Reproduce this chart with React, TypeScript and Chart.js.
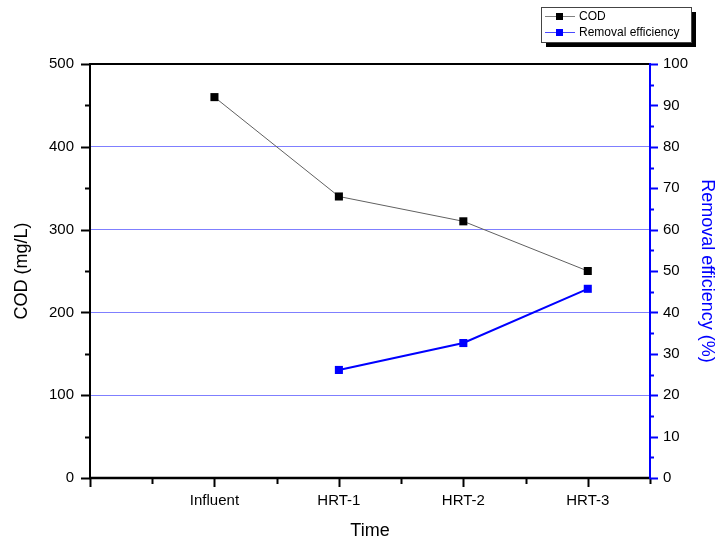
import React, { useEffect, useRef } from "react";
import { Chart, registerables } from "chart.js";

Chart.register(...registerables);

const categories = ["Influent", "HRT-1", "HRT-2", "HRT-3"];
const codValues: (number | null)[] = [460, 340, 310, 250];
const removalValues: (number | null)[] = [null, 26.1, 32.6, 45.7];
const leftTicks = [0, 100, 200, 300, 400, 500];
const rightTicks = [0, 10, 20, 30, 40, 50, 60, 70, 80, 90, 100];

const FONT = "'Liberation Sans', Arial, sans-serif";

const toPoints = (vals: (number | null)[]) =>
  vals
    .map((v, i) => (v === null ? null : { x: i + 1, y: v }))
    .filter((p) => p !== null) as { x: number; y: number }[];

const axesPlugin = {
  id: "originAxes",
  afterDraw(chart: any) {
    const ctx = chart.ctx as CanvasRenderingContext2D;
    const a = chart.chartArea;
    const x = chart.scales.x;
    const y = chart.scales.y;
    const y1 = chart.scales.y1;
    ctx.save();
    ctx.lineCap = "butt";
    // top border
    ctx.strokeStyle = "#000";
    ctx.lineWidth = 2;
    ctx.beginPath();
    ctx.moveTo(a.left, a.top);
    ctx.lineTo(a.right, a.top);
    ctx.stroke();
    // left axis
    ctx.beginPath();
    ctx.moveTo(a.left, a.top - 1);
    ctx.lineTo(a.left, a.bottom + 1);
    ctx.stroke();
    // left ticks
    const lmax = leftTicks[leftTicks.length - 1];
    for (let v = 0; v <= lmax; v += 50) {
      const py = Math.round(y.getPixelForValue(v)) + 0.5;
      const len = v % 100 === 0 ? 9 : 5;
      ctx.lineWidth = 2;
      ctx.beginPath();
      ctx.moveTo(a.left - len, py);
      ctx.lineTo(a.left, py);
      ctx.stroke();
    }
    // bottom axis
    ctx.lineWidth = 2.5;
    ctx.beginPath();
    ctx.moveTo(a.left - 1, a.bottom);
    ctx.lineTo(a.right + 1, a.bottom);
    ctx.stroke();
    ctx.lineWidth = 2;
    for (let v = 0; v <= 4.5; v += 0.5) {
      const px = Math.round(x.getPixelForValue(v)) + 0.5;
      const len = v % 1 === 0 ? 9 : 6;
      ctx.beginPath();
      ctx.moveTo(px, a.bottom);
      ctx.lineTo(px, a.bottom + len);
      ctx.stroke();
    }
    // right axis
    ctx.strokeStyle = "#0000ff";
    ctx.lineWidth = 2;
    ctx.beginPath();
    ctx.moveTo(a.right, a.top - 1);
    ctx.lineTo(a.right, a.bottom + 1);
    ctx.stroke();
    const rmax = rightTicks[rightTicks.length - 1];
    for (let v = 0; v <= rmax; v += 5) {
      const py = Math.round(y1.getPixelForValue(v)) + 0.5;
      const len = v % 10 === 0 ? 8 : 4;
      ctx.beginPath();
      ctx.moveTo(a.right, py);
      ctx.lineTo(a.right + len, py);
      ctx.stroke();
    }
    // legend
    const bx = 541, by = 7, bw = 150, bh = 35;
    ctx.fillStyle = "#000";
    ctx.fillRect(bx + 5, by + 5, bw, bh);
    ctx.fillStyle = "#fff";
    ctx.fillRect(bx, by, bw, bh);
    ctx.strokeStyle = "#444";
    ctx.lineWidth = 1;
    ctx.strokeRect(bx + 0.5, by + 0.5, bw, bh);
    const entries = [
      { label: "COD", line: "#808080", mark: "#000000", y: 16 },
      { label: "Removal efficiency", line: "#4a4aff", mark: "#0000ff", y: 32 },
    ];
    ctx.font = `12px ${FONT}`;
    ctx.textBaseline = "middle";
    ctx.textAlign = "left";
    for (const e of entries) {
      ctx.strokeStyle = e.line;
      ctx.lineWidth = 1;
      ctx.beginPath();
      ctx.moveTo(545, e.y + 0.5);
      ctx.lineTo(575, e.y + 0.5);
      ctx.stroke();
      ctx.fillStyle = e.mark;
      ctx.fillRect(556, e.y - 3, 7, 7);
      ctx.fillStyle = "#000";
      ctx.fillText(e.label, 579, e.y + 1);
    }
    ctx.restore();
  },
};

export default function App() {
  const ref = useRef<HTMLCanvasElement | null>(null);
  useEffect(() => {
    if (!ref.current) return;
    const chart = new Chart(ref.current, {
      type: "line",
      data: {
        datasets: [
          {
            label: "COD",
            data: toPoints(codValues),
            yAxisID: "y",
            borderColor: "#606060",
            borderWidth: 1,
            pointStyle: "rect",
            pointRadius: 5.7,
            pointBackgroundColor: "#000",
            pointBorderColor: "#000",
            pointBorderWidth: 0,
            tension: 0,
          },
          {
            label: "Removal efficiency",
            data: toPoints(removalValues),
            yAxisID: "y1",
            borderColor: "#0000ff",
            borderWidth: 2,
            pointStyle: "rect",
            pointRadius: 5.7,
            pointBackgroundColor: "#0000ff",
            pointBorderColor: "#0000ff",
            pointBorderWidth: 0,
            tension: 0,
          },
        ],
      },
      options: {
        responsive: false,
        animation: false,
        layout: { padding: { top: 64, left: 0, right: 0, bottom: 0 } },
        plugins: { legend: { display: false }, tooltip: { enabled: false } },
        scales: {
          x: {
            type: "linear",
            min: 0,
            max: 4.5,
            grid: { display: false, drawTicks: false },
            border: { display: false },
            ticks: {
              stepSize: 1,
              autoSkip: false,
              maxRotation: 0,
              padding: 14,
              color: "#000",
              font: { family: FONT, size: 15 },
              callback: (v: any) => {
                const n = Number(v);
                return Number.isInteger(n) && n >= 1 && n <= categories.length
                  ? categories[n - 1]
                  : "";
              },
            },
            title: {
              display: true,
              text: "Time",
              color: "#000",
              font: { family: FONT, size: 18 },
              padding: { top: 0, bottom: 0 },
            },
            afterFit: (s: any) => {
              s.height = 64;
            },
          },
          y: {
            position: "left",
            min: leftTicks[0],
            max: leftTicks[leftTicks.length - 1],
            grid: {
              drawTicks: false,
              lineWidth: 1,
              color: (c: any) =>
                c.tick && (c.tick.value === 0 || c.tick.value === 500)
                  ? "rgba(0,0,0,0)"
                  : "#7f7fff",
            },
            border: { display: false },
            ticks: {
              stepSize: 100,
              padding: 16,
              color: "#000",
              font: { family: FONT, size: 15 },
            },
            title: {
              display: true,
              text: "COD (mg/L)",
              color: "#000",
              font: { family: FONT, size: 18 },
              padding: { top: 11, bottom: 0 },
            },
            afterFit: (s: any) => {
              s.width = 90;
            },
          },
          y1: {
            position: "right",
            min: rightTicks[0],
            max: rightTicks[rightTicks.length - 1],
            grid: { display: false, drawTicks: false },
            border: { display: false },
            ticks: {
              stepSize: 10,
              padding: 13,
              color: "#000",
              font: { family: FONT, size: 15 },
            },
            title: {
              display: true,
              text: "Removal efficiency (%)",
              color: "#0000ff",
              font: { family: FONT, size: 18 },
              padding: { top: 2, bottom: 0 },
            },
            afterFit: (s: any) => {
              s.width = 70;
            },
          },
        },
      },
      plugins: [axesPlugin],
    } as any);
    return () => chart.destroy();
  }, []);
  return (
    <div style={{ position: "fixed", left: 0, top: 0, width: 720, height: 542, background: "#fff" }}>
      <canvas ref={ref} width={720} height={542} style={{ display: "block" }} />
    </div>
  );
}
